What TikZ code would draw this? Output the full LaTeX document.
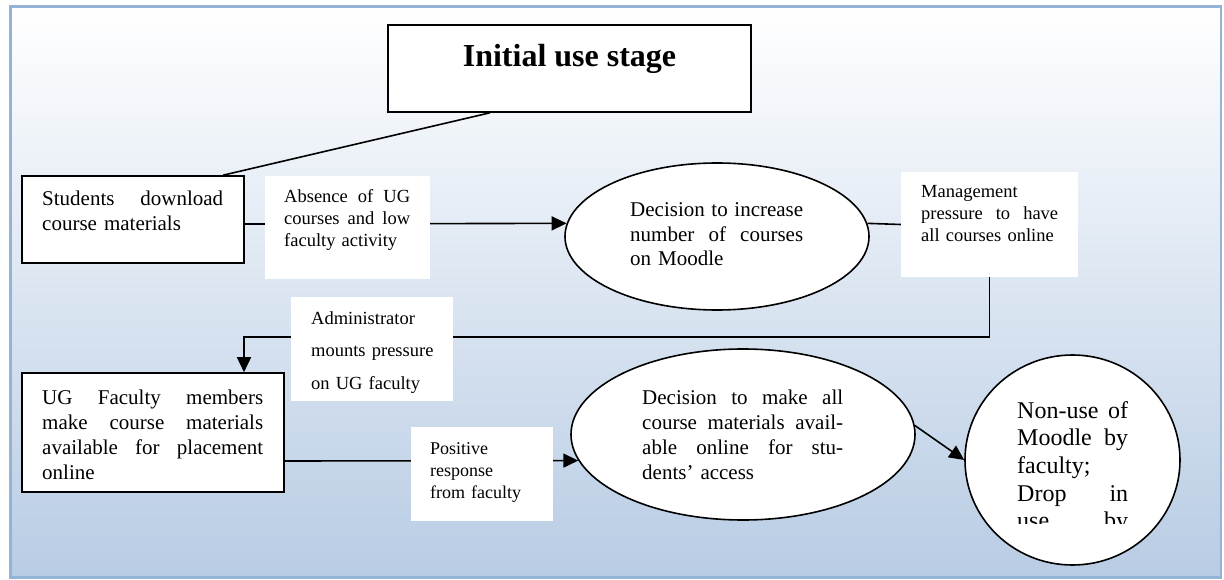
\documentclass[tikz,border=0pt]{standalone}
\usepackage{fontspec}
\setmainfont{Liberation Serif}
\usetikzlibrary{shapes.geometric,arrows.meta}

\definecolor{bgblue}{RGB}{184,204,228}
\definecolor{framecol}{RGB}{149,179,215}

% one line of text spread to the full width
\newcommand{\fullline}[1]{\makebox[\hsize][s]{\spaceskip=0pt\xspaceskip=0pt #1}}

\tikzset{
  shapebox/.style={draw, line width=1.6pt, fill=white, inner sep=0pt},
  shapeoval/.style={ellipse, draw, line width=1.6pt, fill=white, inner sep=0pt},
  lblbox/.style={fill=white, inner sep=0pt},
  bigtxt/.style={anchor=base west, inner sep=0pt, align=left, font=\fontsize{21}{25}\selectfont},
  smalltxt/.style={anchor=base west, inner sep=0pt, align=left, font=\fontsize{18.5}{22}\selectfont},
  conn/.style={line width=1.6pt},
  arr/.style={line width=1.6pt, -{Triangle[length=15pt,width=14pt]}}
}

\begin{document}
\begin{tikzpicture}[x=1pt,y=-1pt]
	\useasboundingbox (0,0) rectangle (1224,580);

	% Background panel
	\shade[top color=white, bottom color=bgblue] (10.5,6.5) rectangle (1221,577.5);
	\draw[framecol, line width=2.5pt] (10.5,6.5) rectangle (1221,577.5);

	% Stage title
	\node[shapebox, minimum width=363, minimum height=87] (title) at (569.5,68.5) {};
	\node[anchor=base, inner sep=0pt, font=\bfseries\fontsize{32}{38}\selectfont] (titletext) at (569.5,67) {Initial use stage};

	% Boxes and ovals
	\node[shapebox, minimum width=222, minimum height=87] (stud) at (133,219.5) {};
	\node[shapebox, minimum width=262, minimum height=119] (ug) at (153,432.5) {};
	\node[shapeoval, minimum width=304, minimum height=147] (dec1) at (717,236.5) {};
	\node[shapeoval, minimum width=344, minimum height=171] (dec2) at (743,434.5) {};
	\node[shapeoval, minimum width=215, minimum height=210] (nonuse) at (1072.5,460) {};
	\node[lblbox, minimum width=177, minimum height=105] (mgmt) at (989.5,224.5) {};

	% Connectors
	\draw[conn] ([xshift=-79.5]title.south) -- ([xshift=90]stud.north);
	\draw[arr] ([yshift=-4.5]stud.east) -- (dec1.175);
	\draw[conn] (dec1.5) -- (mgmt.west);
	\coordinate (bend) at (244,337);
	\draw[arr] (mgmt.south) |- (bend) -- (bend |- ug.north);
	\draw[arr] ([yshift=-28.5]ug.east) -- (dec2.189);
	\draw[arr] (dec2.3) -- (nonuse.west);

	% Labels on the connectors
	\node[lblbox, minimum width=165, minimum height=103] (absence) at (347.5,227.5) {};
	\node[lblbox, minimum width=162, minimum height=104] (admin) at (372,349) {};
	\node[lblbox, minimum width=142, minimum height=94] (positive) at (482,474) {};

	% Texts
	\node[bigtxt, text width=181] (studtext) at (42,206) {\fullline{Students download}\\course materials};
	\node[smalltxt, text width=126] (absencetext) at (284,203) {\fullline{Absence of UG}\\\fullline{courses and low}\\faculty activity};
	\node[bigtxt, text width=173, font=\fontsize{21}{24.5}\selectfont] (dec1text) at (630,217) {\fullline{Decision to increase}\\\fullline{number of courses}\\on Moodle};
	\node[smalltxt, text width=137] (mgmttext) at (921,198) {Management\\\fullline{pressure to have}\\all courses online};
	\node[smalltxt, text width=135, font=\fontsize{18.5}{32.5}\selectfont] (admintext) at (311,324) {Administrator\\mounts pressure\\on UG faculty};
	\node[bigtxt, text width=221] (ugtext) at (42,404) {\fullline{UG Faculty members}\\\fullline{make course materials}\\\fullline{available for placement}\\online};
	\node[smalltxt, text width=110, font=\fontsize{18}{22}\selectfont] (positivetext) at (430,454) {Positive\\response\\from faculty};
	\node[bigtxt, text width=201] (dec2text) at (642,404) {\fullline{Decision to make all}\\\fullline{course materials avail-}\\\fullline{able online for stu-}\\dents’ access};
	\begin{scope}
		\clip (960,390) rectangle (1185,523);
		\node[anchor=base west, inner sep=0pt, align=left, text width=111, font=\fontsize{24}{27.7}\selectfont] (nonusetext) at (1017,418) {\fullline{Non-use of}\\\fullline{Moodle by}\\faculty;\\\fullline{Drop in}\\\fullline{use by}};
	\end{scope}

\end{tikzpicture}
\end{document}
